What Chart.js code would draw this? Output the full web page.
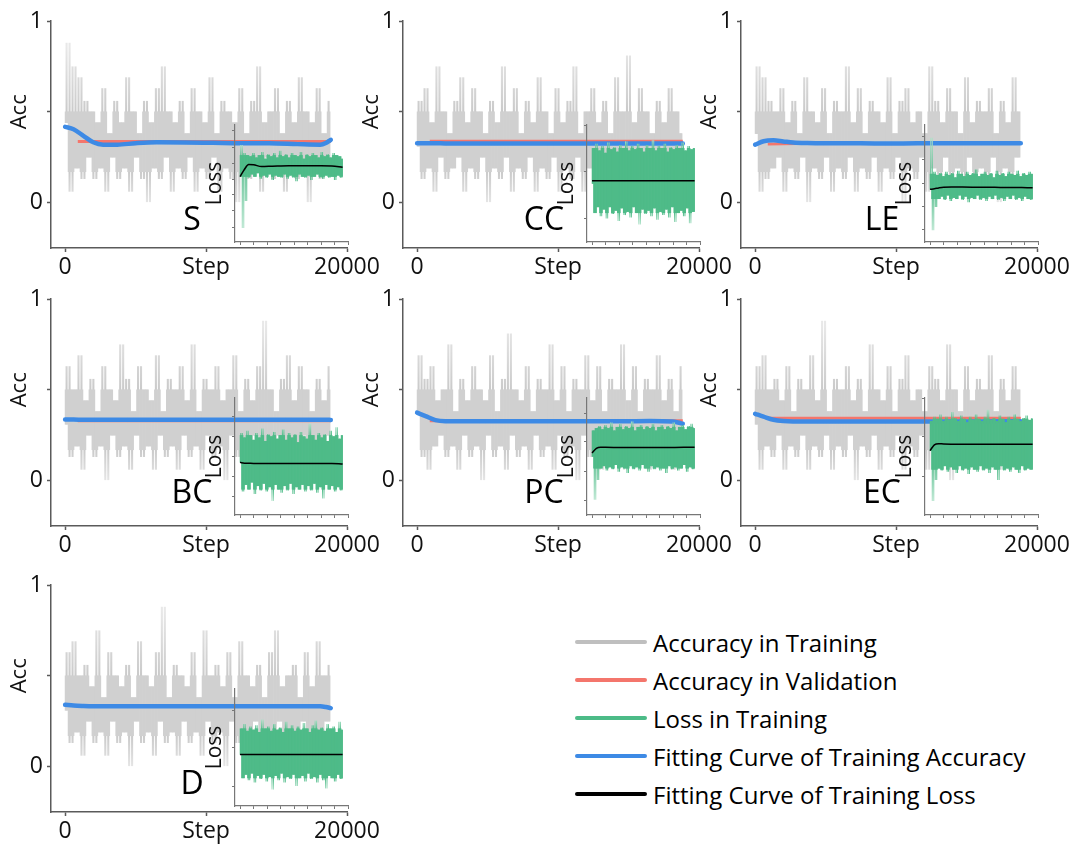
<!DOCTYPE html>
<html>
<head>
<meta charset="utf-8">
<script src="https://cdn.jsdelivr.net/npm/chart.js@4.4.1/dist/chart.umd.min.js"></script>
<style>
  html, body { margin: 0; padding: 0; background: #fff; overflow: hidden; }
  #page { position: relative; width: 1078px; height: 847px; font-family: "Open Sans", sans-serif; }
  canvas { position: absolute; }
  .tag { position: absolute; font-size: 32px; line-height: 32px; color: #000; transform: translateX(-50%); white-space: nowrap; }
  .key { position: absolute; left: 575px; height: 30px; display: flex; align-items: center; font-size: 24px; color: #000; white-space: nowrap; }
  .key .line { display: inline-block; width: 72px; height: 4px; margin-right: 6px; border-radius: 2px; }
</style>
</head>
<body>
<div id="page"></div>
<script>
// series names and colours (legend order)
const seriesNames = ["Accuracy in Training", "Accuracy in Validation", "Loss in Training",
                     "Fitting Curve of Training Accuracy", "Fitting Curve of Training Loss"];
const seriesColors = ["#bfbfbf", "#f4766c", "#4cbb87", "#3d8ae5", "#000000"];

// steps (x values)
const fitSteps = [0, 600, 1300, 2000, 2700, 3700, 5000, 6500, 8500, 10500, 12500, 14500, 16500, 18100, 18500, 18850];
const valSteps = [900, 3000, 6000, 9000, 12000, 15000, 18000, 18850];
const lossFitSteps = [0, 800, 1600, 2500, 4000, 6000, 9000, 12000, 15000, 17000, 19000];
const trainSpan = 18800;
const lossSpan = 19000;
const stepTicks = [0, 10000, 20000];
const insetStepTicks = [0, 2500, 5000, 7500, 10000, 12500, 15000, 17500, 20000];
const accTicks = [0, 0.5, 1];

// ---- S ----
const accTrainS = [0.44, 0.88, 0.06, 0.75, 0.19, 0.69, 0.13, 0.56, 0.25, 0.5,
  0.13, 0.44, 0.19, 0.63, 0.06, 0.38, 0.25, 0.56, 0.13, 0.44,
  0.19, 0.69, 0.06, 0.5, 0.25, 0.38, 0.13, 0.56, 0, 0.44,
  0.19, 0.63, 0.13, 0.75, 0.25, 0.5, 0.06, 0.44, 0.19, 0.56,
  0.13, 0.38, 0.25, 0.63, 0.06, 0.5, 0.19, 0.44, 0.13, 0.69,
  0.25, 0.38, 0.06, 0.56, 0.19, 0.5, 0.13, 0.44, 0, 0.63,
  0.25, 0.38, 0.13, 0.56, 0.19, 0.75, 0.06, 0.44, 0.25, 0.5,
  0.13, 0.63, 0.19, 0.38, 0.06, 0.56, 0.25, 0.44, 0.13, 0.69,
  0.19, 0.5, 0, 0.44, 0.25, 0.63, 0.13, 0.38, 0.19, 0.56];
const accValS = [0.336, 0.337, 0.337, 0.337, 0.336, 0.337, 0.337, 0.337];
const accFitS = [0.417, 0.404, 0.368, 0.332, 0.319, 0.319, 0.327, 0.332, 0.331, 0.329, 0.327, 0.327, 0.322, 0.319, 0.328, 0.346];
const lossTrainS = [0.56, 0.83, 0.12, 0.76, 0.35, 0.74, 0.55, 0.73, 0.58, 0.76,
  0.56, 0.72, 0.59, 0.74, 0.54, 0.77, 0.57, 0.71, 0.55, 0.75,
  0.58, 0.73, 0.53, 0.76, 0.57, 0.72, 0.56, 0.78, 0.55, 0.73,
  0.58, 0.75, 0.54, 0.72, 0.57, 0.76, 0.55, 0.74, 0.52, 0.73,
  0.58, 0.77, 0.56, 0.71, 0.55, 0.75, 0.57, 0.73, 0.53, 0.76,
  0.56, 0.74, 0.58, 0.72, 0.55, 0.77, 0.54, 0.73, 0.57, 0.75,
  0.55, 0.72, 0.56, 0.76, 0.53, 0.74, 0.57, 0.73, 0.55, 0.71];
const lossFitS = [0.558, 0.62, 0.662, 0.66, 0.645, 0.648, 0.652, 0.652, 0.652, 0.65, 0.638];
const lossTicksS = [0.128, 0.265, 0.402, 0.538, 0.675, 0.81, 0.957];

// ---- CC ----
const accTrainCC = [0.31, 0.56, 0.13, 0.63, 0.19, 0.44, 0.06, 0.75, 0.25, 0.5,
  0.13, 0.38, 0.19, 0.56, 0.25, 0.69, 0.06, 0.44, 0.19, 0.63,
  0.13, 0.5, 0.25, 0.38, 0, 0.56, 0.19, 0.44, 0.13, 0.75,
  0.25, 0.5, 0.06, 0.63, 0.19, 0.38, 0.13, 0.56, 0.25, 0.44,
  0.06, 0.69, 0.19, 0.5, 0.13, 0.38, 0.25, 0.63, 0.06, 0.44,
  0.19, 0.56, 0.13, 0.75, 0.25, 0.38, 0.06, 0.5, 0.19, 0.63,
  0.13, 0.44, 0.25, 0.56, 0, 0.38, 0.19, 0.69, 0.13, 0.5,
  0.25, 0.81, 0.06, 0.44, 0.19, 0.63, 0.13, 0.5, 0.25, 0.38,
  0.06, 0.56, 0.19, 0.44, 0.13, 0.63, 0.25, 0.5, 0.19, 0.38];
const accValCC = [0.338, 0.338, 0.338, 0.338, 0.338, 0.338, 0.338, 0.338];
const accFitCC = [0.327, 0.327, 0.327, 0.326, 0.326, 0.326, 0.326, 0.326, 0.326, 0.326, 0.326, 0.326, 0.326, 0.326, 0.326, 0.326];
const lossTrainCC = [0.5, 0.8, 0.25, 0.84, 0.3, 0.78, 0.22, 0.82, 0.28, 0.76,
  0.2, 0.85, 0.3, 0.79, 0.24, 0.81, 0.27, 0.77, 0.18, 0.83,
  0.29, 0.8, 0.23, 0.86, 0.26, 0.78, 0.21, 0.82, 0.3, 0.79,
  0.25, 0.84, 0.15, 0.8, 0.28, 0.77, 0.24, 0.83, 0.27, 0.8,
  0.22, 0.87, 0.29, 0.78, 0.19, 0.82, 0.26, 0.8, 0.23, 0.84,
  0.28, 0.77, 0.21, 0.81, 0.3, 0.79, 0.17, 0.83, 0.25, 0.8,
  0.27, 0.85, 0.22, 0.78, 0.29, 0.82, 0.16, 0.79, 0.26, 0.8];
const lossFitCC = [0.524, 0.524, 0.524, 0.524, 0.524, 0.524, 0.524, 0.524, 0.524, 0.524, 0.524];
const lossTicksCC = [0.205, 0.6, 0.995];

// ---- LE ----
const accTrainLE = [0.38, 0.75, 0.06, 0.69, 0.13, 0.56, 0.19, 0.5, 0.25, 0.63,
  0.06, 0.44, 0.19, 0.56, 0.13, 0.38, 0.25, 0.69, 0, 0.5,
  0.19, 0.44, 0.13, 0.63, 0.25, 0.38, 0.06, 0.56, 0.19, 0.5,
  0.13, 0.75, 0.25, 0.44, 0.06, 0.63, 0.19, 0.38, 0.13, 0.56,
  0.25, 0.5, 0.06, 0.44, 0.19, 0.69, 0.13, 0.38, 0.25, 0.56,
  0, 0.63, 0.19, 0.44, 0.13, 0.5, 0.25, 0.38, 0.06, 0.75,
  0.19, 0.56, 0.13, 0.44, 0.25, 0.63, 0.06, 0.5, 0.19, 0.38,
  0.13, 0.69, 0.25, 0.44, 0.06, 0.56, 0.19, 0.5, 0.13, 0.63,
  0.25, 0.38, 0, 0.56, 0.19, 0.44, 0.13, 0.69, 0.25, 0.5];
const accValLE = [0.322, 0.326, 0.326, 0.326, 0.326, 0.326, 0.326, 0.326];
const accFitLE = [0.319, 0.338, 0.343, 0.337, 0.331, 0.328, 0.327, 0.327, 0.326, 0.326, 0.327, 0.327, 0.327, 0.327, 0.327, 0.327];
const lossTrainLE = [0.45, 0.89, 0.1, 0.6, 0.3, 0.57, 0.37, 0.59, 0.39, 0.56,
  0.36, 0.6, 0.4, 0.57, 0.35, 0.59, 0.38, 0.55, 0.37, 0.61,
  0.4, 0.58, 0.36, 0.56, 0.39, 0.6, 0.34, 0.57, 0.38, 0.59,
  0.37, 0.62, 0.4, 0.56, 0.36, 0.58, 0.38, 0.6, 0.35, 0.57,
  0.39, 0.59, 0.37, 0.55, 0.4, 0.61, 0.36, 0.57, 0.38, 0.59,
  0.35, 0.56, 0.39, 0.6, 0.37, 0.58, 0.4, 0.57, 0.36, 0.61,
  0.38, 0.56, 0.35, 0.59, 0.39, 0.57, 0.37, 0.6, 0.36, 0.58];
const lossFitLE = [0.45, 0.455, 0.462, 0.468, 0.47, 0.47, 0.468, 0.467, 0.466, 0.465, 0.464];
const lossTicksLE = [0.103, 0.302, 0.502, 0.707, 0.9];

// ---- BC ----
const accTrainBC = [0.31, 0.63, 0.13, 0.5, 0.19, 0.69, 0.06, 0.44, 0.25, 0.56,
  0.13, 0.38, 0.19, 0.63, 0, 0.5, 0.25, 0.44, 0.13, 0.75,
  0.19, 0.56, 0.06, 0.38, 0.25, 0.63, 0.13, 0.5, 0.19, 0.44,
  0.06, 0.69, 0.25, 0.38, 0.13, 0.56, 0.19, 0.5, 0.06, 0.63,
  0.25, 0.44, 0.13, 0.75, 0.19, 0.38, 0.06, 0.56, 0.25, 0.5,
  0.13, 0.63, 0.19, 0.44, 0, 0.5, 0.25, 0.69, 0.13, 0.38,
  0.19, 0.56, 0.06, 0.44, 0.25, 0.63, 0.13, 0.88, 0.19, 0.5,
  0.06, 0.38, 0.25, 0.56, 0.13, 0.69, 0.19, 0.44, 0.06, 0.63,
  0.25, 0.5, 0.13, 0.38, 0.19, 0.56, 0.06, 0.44, 0.25, 0.63];
const accValBC = [0.329, 0.329, 0.329, 0.329, 0.329, 0.329, 0.329, 0.329];
const accFitBC = [0.336, 0.336, 0.335, 0.335, 0.335, 0.335, 0.335, 0.335, 0.335, 0.335, 0.335, 0.335, 0.335, 0.335, 0.335, 0.334];
const lossTrainBC = [0.45, 0.7, 0.2, 0.66, 0.26, 0.72, 0.22, 0.68, 0.28, 0.64,
  0.18, 0.7, 0.25, 0.66, 0.21, 0.74, 0.27, 0.63, 0.2, 0.69,
  0.24, 0.67, 0.12, 0.71, 0.26, 0.65, 0.22, 0.68, 0.19, 0.73,
  0.25, 0.64, 0.21, 0.7, 0.27, 0.66, 0.18, 0.69, 0.24, 0.62,
  0.22, 0.71, 0.26, 0.67, 0.2, 0.65, 0.25, 0.78, 0.21, 0.68,
  0.27, 0.64, 0.19, 0.7, 0.24, 0.66, 0.14, 0.69, 0.26, 0.63,
  0.22, 0.72, 0.25, 0.67, 0.2, 0.75, 0.24, 0.65, 0.21, 0.68];
const lossFitBC = [0.45, 0.443, 0.442, 0.441, 0.441, 0.441, 0.44, 0.44, 0.44, 0.441, 0.436];
const lossTicksBC = [0.16, 0.33, 0.5, 0.67, 0.84];

// ---- PC ----
const accTrainPC = [0.38, 0.69, 0.13, 0.56, 0.06, 0.63, 0.19, 0.44, 0.25, 0.5,
  0.13, 0.75, 0.19, 0.38, 0.06, 0.56, 0.25, 0.44, 0.13, 0.63,
  0.19, 0.5, 0, 0.44, 0.25, 0.69, 0.13, 0.38, 0.19, 0.56,
  0.06, 0.81, 0.25, 0.5, 0.13, 0.44, 0.19, 0.63, 0.06, 0.38,
  0.25, 0.56, 0.13, 0.5, 0.19, 0.75, 0.06, 0.44, 0.25, 0.63,
  0.13, 0.38, 0.19, 0.56, 0, 0.5, 0.25, 0.69, 0.13, 0.44,
  0.19, 0.63, 0.06, 0.38, 0.25, 0.56, 0.13, 0.5, 0.19, 0.75,
  0.06, 0.44, 0.25, 0.63, 0.13, 0.38, 0.19, 0.56, 0.06, 0.5,
  0.25, 0.69, 0.13, 0.44, 0.19, 0.56, 0.06, 0.38, 0.25, 0.63];
const accValPC = [0.33, 0.33, 0.33, 0.33, 0.33, 0.33, 0.33, 0.33];
const accFitPC = [0.374, 0.355, 0.333, 0.327, 0.327, 0.327, 0.327, 0.327, 0.327, 0.327, 0.327, 0.327, 0.328, 0.325, 0.32, 0.313];
const lossTrainPC = [0.5, 0.72, 0.13, 0.74, 0.3, 0.76, 0.4, 0.73, 0.42, 0.77,
  0.38, 0.74, 0.41, 0.79, 0.39, 0.72, 0.43, 0.75, 0.37, 0.78,
  0.41, 0.73, 0.4, 0.76, 0.36, 0.74, 0.42, 0.8, 0.39, 0.72,
  0.41, 0.75, 0.38, 0.77, 0.43, 0.73, 0.4, 0.76, 0.37, 0.74,
  0.42, 0.78, 0.39, 0.72, 0.41, 0.75, 0.38, 0.77, 0.4, 0.73,
  0.36, 0.76, 0.42, 0.74, 0.39, 0.79, 0.41, 0.72, 0.38, 0.75,
  0.4, 0.77, 0.43, 0.73, 0.37, 0.76, 0.41, 0.78, 0.39, 0.74];
const lossFitPC = [0.53, 0.57, 0.58, 0.578, 0.577, 0.577, 0.577, 0.576, 0.577, 0.578, 0.58];
const lossTicksPC = [0.12, 0.37, 0.63, 0.87];

// ---- EC ----
const accTrainEC = [0.31, 0.63, 0.06, 0.69, 0.19, 0.5, 0.13, 0.56, 0.25, 0.44,
  0.06, 0.63, 0.19, 0.38, 0.13, 0.56, 0.25, 0.5, 0.06, 0.69,
  0.19, 0.44, 0.13, 0.88, 0.25, 0.38, 0.06, 0.56, 0.19, 0.5,
  0.13, 0.63, 0.25, 0.44, 0, 0.56, 0.19, 0.38, 0.13, 0.75,
  0.25, 0.5, 0.06, 0.44, 0.19, 0.63, 0.13, 0.38, 0.25, 0.56,
  0.06, 0.69, 0.19, 0.44, 0.13, 0.5, 0.25, 0.38, 0.06, 0.63,
  0.19, 0.56, 0.13, 0.44, 0.25, 0.75, 0, 0.5, 0.19, 0.38,
  0.13, 0.63, 0.25, 0.44, 0.06, 0.56, 0.19, 0.5, 0.13, 0.69,
  0.25, 0.38, 0.06, 0.56, 0.19, 0.44, 0.13, 0.63, 0.25, 0.5];
const accValEC = [0.344, 0.344, 0.344, 0.344, 0.344, 0.344, 0.344, 0.344];
const accFitEC = [0.368, 0.352, 0.335, 0.328, 0.326, 0.326, 0.326, 0.326, 0.326, 0.326, 0.326, 0.326, 0.326, 0.327, 0.327, 0.327];
const lossTrainEC = [0.55, 0.8, 0.12, 0.84, 0.3, 0.82, 0.4, 0.86, 0.38, 0.8,
  0.42, 0.84, 0.37, 0.81, 0.41, 0.88, 0.39, 0.83, 0.36, 0.8,
  0.42, 0.85, 0.38, 0.82, 0.4, 0.79, 0.35, 0.84, 0.41, 0.81,
  0.39, 0.86, 0.37, 0.82, 0.42, 0.8, 0.38, 0.84, 0.4, 0.9,
  0.36, 0.81, 0.41, 0.83, 0.39, 0.8, 0.3, 0.85, 0.42, 0.82,
  0.38, 0.79, 0.4, 0.84, 0.37, 0.81, 0.41, 0.86, 0.39, 0.82,
  0.36, 0.8, 0.42, 0.83, 0.38, 0.85, 0.4, 0.81, 0.39, 0.83];
const lossFitEC = [0.55, 0.6, 0.61, 0.607, 0.605, 0.604, 0.604, 0.605, 0.605, 0.605, 0.604];
const lossTicksEC = [0.33, 0.67, 1.0];

// ---- D ----
const accTrainD = [0.31, 0.63, 0.13, 0.69, 0.19, 0.5, 0.06, 0.56, 0.25, 0.44,
  0.13, 0.75, 0.19, 0.38, 0.06, 0.63, 0.25, 0.5, 0.13, 0.44,
  0.19, 0.56, 0, 0.38, 0.25, 0.69, 0.13, 0.5, 0.19, 0.44,
  0.06, 0.63, 0.25, 0.88, 0.13, 0.38, 0.19, 0.56, 0.06, 0.5,
  0.25, 0.44, 0.13, 0.63, 0.19, 0.38, 0.06, 0.75, 0.25, 0.5,
  0.13, 0.56, 0.19, 0.44, 0, 0.63, 0.25, 0.38, 0.13, 0.69,
  0.19, 0.5, 0.06, 0.44, 0.25, 0.56, 0.13, 0.38, 0.19, 0.63,
  0.06, 0.75, 0.25, 0.44, 0.13, 0.5, 0.19, 0.56, 0.06, 0.38,
  0.25, 0.63, 0.13, 0.44, 0.19, 0.69, 0.06, 0.5, 0.25, 0.56];
const accValD = [0.333, 0.333, 0.333, 0.333, 0.333, 0.333, 0.332, 0.325];
const accFitD = [0.34, 0.336, 0.334, 0.333, 0.333, 0.333, 0.333, 0.333, 0.333, 0.333, 0.333, 0.333, 0.333, 0.332, 0.328, 0.322];
const lossTrainD = [0.44, 0.66, 0.24, 0.7, 0.27, 0.64, 0.22, 0.68, 0.28, 0.65,
  0.2, 0.69, 0.26, 0.63, 0.23, 0.74, 0.27, 0.66, 0.21, 0.68,
  0.25, 0.64, 0.14, 0.7, 0.26, 0.65, 0.22, 0.67, 0.28, 0.63,
  0.2, 0.72, 0.25, 0.66, 0.23, 0.69, 0.27, 0.64, 0.17, 0.68,
  0.24, 0.65, 0.26, 0.71, 0.21, 0.66, 0.28, 0.63, 0.23, 0.69,
  0.25, 0.73, 0.2, 0.65, 0.27, 0.67, 0.22, 0.64, 0.15, 0.7,
  0.26, 0.66, 0.24, 0.68, 0.21, 0.63, 0.27, 0.72, 0.23, 0.65];
const lossFitD = [0.44, 0.44, 0.44, 0.44, 0.44, 0.44, 0.44, 0.44, 0.44, 0.44, 0.44];
const lossTicksD = [0.17, 0.5, 0.82];

// panel placement: axis x, top of plot, top of inset
const panels = [
  { name: "S",  accTrain: accTrainS,  accVal: accValS,  accFit: accFitS,  lossTrain: lossTrainS,  lossFit: lossFitS,  lossTicks: lossTicksS,  left: 51,  top: 21,  insetTop: 125 },
  { name: "CC", accTrain: accTrainCC, accVal: accValCC, accFit: accFitCC, lossTrain: lossTrainCC, lossFit: lossFitCC, lossTicks: lossTicksCC, left: 403, top: 21,  insetTop: 125 },
  { name: "LE", accTrain: accTrainLE, accVal: accValLE, accFit: accFitLE, lossTrain: lossTrainLE, lossFit: lossFitLE, lossTicks: lossTicksLE, left: 741, top: 21,  insetTop: 125 },
  { name: "BC", accTrain: accTrainBC, accVal: accValBC, accFit: accFitBC, lossTrain: lossTrainBC, lossFit: lossFitBC, lossTicks: lossTicksBC, left: 51,  top: 299, insetTop: 398 },
  { name: "PC", accTrain: accTrainPC, accVal: accValPC, accFit: accFitPC, lossTrain: lossTrainPC, lossFit: lossFitPC, lossTicks: lossTicksPC, left: 403, top: 299, insetTop: 398 },
  { name: "EC", accTrain: accTrainEC, accVal: accValEC, accFit: accFitEC, lossTrain: lossTrainEC, lossFit: lossFitEC, lossTicks: lossTicksEC, left: 741, top: 299, insetTop: 398 },
  { name: "D",  accTrain: accTrainD,  accVal: accValD,  accFit: accFitD,  lossTrain: lossTrainD,  lossFit: lossFitD,  lossTicks: lossTicksD,  left: 51,  top: 585, insetTop: 689 }
];

const page = document.getElementById("page");
const axisCol = "#5a5a5a";
const fontFamily = "'Open Sans', sans-serif";
const tickFont = { family: fontFamily, size: 23 };

// each segment between two consecutive samples becomes a thin column covering
// its vertical range, which is how a very dense noisy trace looks on screen
function columns(values, span) {
  const gap = span / (values.length - 1);
  const out = [];
  for (let i = 0; i < values.length - 1; i++) {
    const a = values[i], b = values[i + 1];
    out.push({ x: (i + 0.5) * gap, y: [Math.min(a, b), Math.max(a, b)] });
  }
  return out;
}
// the part of those columns inside the dense core (drawn solid, full width)
function clipColumns(cols, lo, hi) {
  return cols.map(c => ({ x: c.x, y: [Math.max(c.y[0], lo), Math.min(c.y[1], hi)] }))
             .filter(c => c.y[1] > c.y[0]);
}
function pair(steps, values) {
  return steps.map((s, i) => ({ x: s, y: values[i] }));
}
function quartiles(values) {
  const s = [...values].sort((a, b) => a - b);
  const n = s.length;
  return { lo: s[0], qLo: s[Math.floor(n * 0.25)], qHi: s[Math.floor(n * 0.75)], hi: s[n - 1] };
}
// vertical fade: solid in the dense core, paler towards the rare extremes
function fade(chart, q, solid, light) {
  const y = chart.scales.y;
  if (!y) return solid;
  const top = y.getPixelForValue(q.hi), bot = y.getPixelForValue(q.lo);
  if (!isFinite(top) || !isFinite(bot) || bot - top < 2) return solid;
  const t = v => Math.min(1, Math.max(0, (y.getPixelForValue(v) - top) / (bot - top)));
  const g = chart.ctx.createLinearGradient(0, top, 0, bot);
  g.addColorStop(0, light);
  g.addColorStop(t(q.qHi), solid);
  g.addColorStop(t(q.qLo), solid);
  g.addColorStop(1, light);
  return g;
}
function addCanvas(left, top, w, h) {
  const c = document.createElement("canvas");
  c.width = w;
  c.height = h;
  c.style.left = left + "px";
  c.style.top = top + "px";
  page.appendChild(c);
  return c;
}

// "Acc" centred on the 0.5 tick, like the original
const accTitle = {
  id: "accTitle",
  afterDraw(chart) {
    const ctx = chart.ctx;
    const y = chart.scales.y.getPixelForValue(0.5);
    ctx.save();
    ctx.translate(20, y);
    ctx.rotate(-Math.PI / 2);
    ctx.font = "22px " + fontFamily;
    ctx.fillStyle = "#111";
    ctx.textAlign = "center";
    ctx.textBaseline = "middle";
    ctx.fillText("Acc", 0, 0);
    ctx.restore();
  }
};

// core of the gray band (levels that almost every batch crosses)
const grayCore = { lo: -0.02, qLo: 0.17, qHi: 0.5, hi: 0.86 };

function drawMain(p) {
  const c = addCanvas(p.left - 51, p.top - 21, 400, 290);
  const cols = columns(p.accTrain, trainSpan);
  new Chart(c, {
    type: "line",
    data: {
      datasets: [
        { label: seriesNames[3], data: pair(fitSteps, p.accFit), borderColor: seriesColors[3],
          borderWidth: 4.5, cubicInterpolationMode: "monotone", borderCapStyle: "round" },
        { label: seriesNames[1], data: pair(valSteps, p.accVal), borderColor: seriesColors[1],
          borderWidth: 3 },
        { type: "bar", label: seriesNames[0], data: clipColumns(cols, grayCore.qLo, grayCore.qHi),
          backgroundColor: "#d0d0d0", borderWidth: 0, grouped: false,
          barPercentage: 1, categoryPercentage: 1 },
        { type: "bar", label: seriesNames[0], data: cols,
          backgroundColor: ctx => fade(ctx.chart, grayCore, "#cacaca", "#e8e8e8"),
          borderWidth: 0, grouped: false, barPercentage: 0.7, categoryPercentage: 1 }
      ]
    },
    options: {
      responsive: false,
      animation: false,
      events: [],
      layout: { autoPadding: false, padding: { top: 21, right: 53, left: 0, bottom: 0 } },
      elements: { point: { radius: 0 } },
      plugins: { legend: { display: false }, tooltip: { enabled: false } },
      scales: {
        x: {
          type: "linear", min: -1000, max: 20000, offset: false,
          afterBuildTicks: s => { s.ticks = stepTicks.map(v => ({ value: v })); },
          afterFit: s => { s.height = 42; },
          ticks: { callback: v => v === 10000 ? "Step" : String(v), font: tickFont, color: "#111",
                   padding: 2, maxRotation: 0, autoSkip: false },
          grid: { drawOnChartArea: false, offset: false, tickLength: 4, tickColor: axisCol, tickWidth: 1.5 },
          border: { color: axisCol, width: 1.5 }
        },
        y: {
          min: -0.25, max: 1,
          afterBuildTicks: s => { s.ticks = accTicks.map(v => ({ value: v })); },
          afterFit: s => { s.width = 51; },
          ticks: { callback: v => v === 0.5 ? "" : String(v), font: tickFont, color: "#111", padding: 4 },
          grid: { drawOnChartArea: false, tickLength: 4, tickColor: axisCol, tickWidth: 1.5 },
          border: { color: axisCol, width: 1.5 }
        }
      }
    },
    plugins: [accTitle]
  });
}

function drawInset(p) {
  const c = addCanvas(p.left + 184 - 36, p.insetTop - 6, 157, 131);
  const q = quartiles(p.lossTrain);
  const cols = columns(p.lossTrain, lossSpan);
  new Chart(c, {
    type: "line",
    data: {
      datasets: [
        { label: seriesNames[4], data: pair(lossFitSteps, p.lossFit), borderColor: seriesColors[4],
          borderWidth: 1.5, cubicInterpolationMode: "monotone" },
        { type: "bar", label: seriesNames[2], data: clipColumns(cols, q.qLo, q.qHi),
          backgroundColor: "rgb(78,187,136)", borderWidth: 0, grouped: false,
          barPercentage: 1, categoryPercentage: 1 },
        { type: "bar", label: seriesNames[2], data: cols,
          backgroundColor: ctx => fade(ctx.chart, q, "rgb(78,187,136)", "rgb(175,226,201)"),
          borderWidth: 0, grouped: false, barPercentage: 0.7, categoryPercentage: 1 }
      ]
    },
    options: {
      responsive: false,
      animation: false,
      events: [],
      layout: { autoPadding: false, padding: { top: 6, right: 8, left: 0, bottom: 0 } },
      elements: { point: { radius: 0 } },
      plugins: { legend: { display: false }, tooltip: { enabled: false } },
      scales: {
        x: {
          type: "linear", min: -935, max: 20000, offset: false,
          afterBuildTicks: s => { s.ticks = insetStepTicks.map(v => ({ value: v })); },
          afterFit: s => { s.height = 8; },
          ticks: { display: false },
          grid: { drawOnChartArea: false, offset: false, tickLength: 3, tickColor: "#777" },
          border: { color: "#777", width: 1.2 }
        },
        y: {
          min: 0, max: 1,
          afterBuildTicks: s => { s.ticks = p.lossTicks.map(v => ({ value: v })); },
          afterFit: s => { s.width = 36; },
          ticks: { display: false },
          grid: { drawOnChartArea: false, tickLength: 3, tickColor: "#777" },
          border: { color: "#777", width: 1.2 },
          title: { display: true, text: "Loss", color: "#111", font: { family: fontFamily, size: 21 },
                   padding: { top: 3, bottom: 0 } }
        }
      }
    }
  });
}

panels.forEach(drawMain);
panels.forEach(drawInset);

// panel letters
panels.forEach(p => {
  const t = document.createElement("div");
  t.className = "tag";
  t.textContent = p.name;
  t.style.left = (p.left + 184 - 43) + "px";
  t.style.top = (p.insetTop + 117 - 12 - 28) + "px";
  page.appendChild(t);
});

// legend
const legendRows = [642, 680, 718, 756, 794];
seriesNames.forEach((name, i) => {
  const row = document.createElement("div");
  row.className = "key";
  row.style.top = (legendRows[i] - 15) + "px";
  const sw = document.createElement("span");
  sw.className = "line";
  sw.style.background = seriesColors[i];
  row.appendChild(sw);
  row.appendChild(document.createTextNode(name));
  page.appendChild(row);
});
</script>
</body>
</html>
